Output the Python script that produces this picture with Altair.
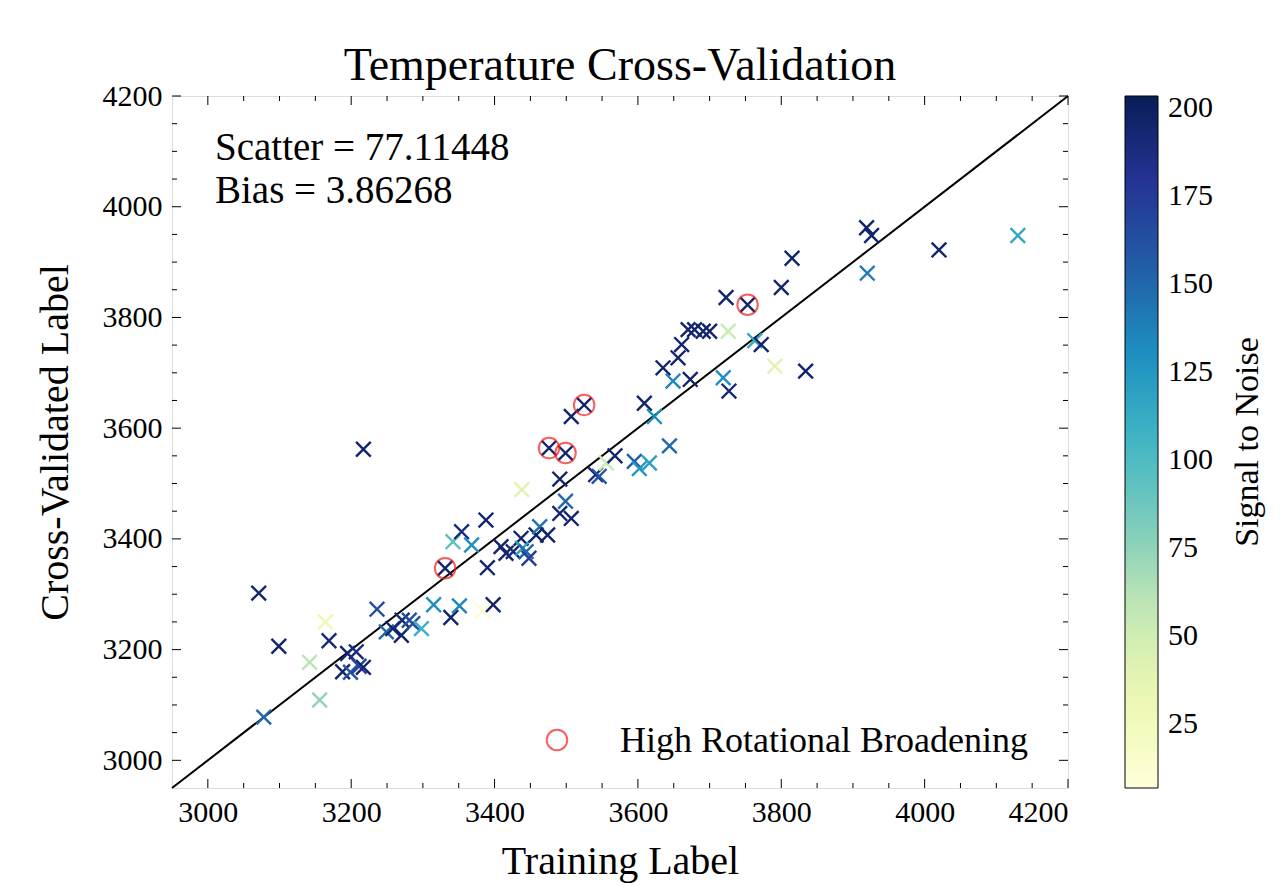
import altair as alt
import pandas as pd

FONT = "Liberation Serif"

# ---- data ----
train_label = [3071, 3099, 3142, 3164, 3169, 3156, 3078, 3217, 3195, 3207,
               3188, 3199, 3211, 3217, 3236, 3249, 3258, 3271, 3270, 3281,
               3286, 3298, 3315, 3339, 3351, 3331, 3342, 3354, 3368, 3388,
               3390, 3398, 3384, 3409, 3416, 3426, 3437, 3439, 3444, 3448,
               3458, 3463, 3474, 3438, 3491, 3491, 3499, 3507, 3476, 3499,
               3507, 3525, 3541, 3546, 3556, 3568, 3595, 3602, 3616, 3609,
               3623, 3644, 3635, 3649, 3656, 3661, 3670, 3679, 3691, 3700,
               3673, 3726, 3719, 3727, 3723, 3753, 3763, 3772, 3791, 3800,
               3815, 3834, 3919, 3926, 3920, 4020, 4130]
cv_label = [3302, 3206, 3177, 3250, 3216, 3109, 3078, 3562, 3193, 3196,
            3160, 3159, 3170, 3168, 3273, 3232, 3238, 3253, 3226, 3253,
            3247, 3238, 3281, 3258, 3279, 3347, 3395, 3413, 3389, 3434,
            3348, 3281, 3270, 3386, 3374, 3377, 3401, 3383, 3377, 3365,
            3407, 3422, 3407, 3489, 3508, 3446, 3468, 3437, 3564, 3555,
            3621, 3642, 3516, 3513, 3537, 3550, 3540, 3527, 3537, 3645,
            3621, 3568, 3709, 3685, 3727, 3751, 3778, 3778, 3775, 3775,
            3688, 3775, 3691, 3667, 3836, 3823, 3758, 3751, 3712, 3854,
            3907, 3703, 3962, 3948, 3880, 3922, 3948]
snr = [195, 195, 60, 30, 190, 75, 150, 195, 195, 190,
       195, 160, 170, 195, 165, 150, 195, 190, 195, 160,
       165, 110, 130, 195, 135, 195, 95, 190, 130, 195,
       195, 195, 12, 195, 195, 190, 195, 120, 150, 175,
       195, 145, 195, 40, 195, 195, 150, 195, 195, 195,
       195, 195, 190, 160, 55, 195, 155, 125, 120, 195,
       130, 150, 195, 135, 195, 195, 195, 195, 195, 195,
       195, 55, 130, 190, 195, 195, 115, 195, 40, 195,
       195, 195, 195, 195, 140, 195, 115]
high_rot = [False] * len(train_label)
for i in (25, 48, 49, 51, 75):
    high_rot[i] = True

axis_ticks = [3000, 3200, 3400, 3600, 3800, 4000, 4200]
minor_ticks = [v for v in range(3000, 4201, 50) if v not in axis_ticks]
snr_ticks = [25, 50, 75, 100, 125, 150, 175, 200]
snr_domain = [6.7, 203.4]
ylgnbu = ["#ffffd9", "#edf8b1", "#c7e9b4", "#7fcdbb", "#41b6c4",
          "#1d91c0", "#225ea8", "#253494", "#081d58"]
lim = [2950, 4200]

W, H = 896, 692
CB_X, CB_W = 953, 33

df = pd.DataFrame({"train": train_label, "cv": cv_label, "snr": snr, "rot": high_rot})
df_rot = df[df["rot"]]
diag = pd.DataFrame({"train": lim, "cv": lim})

xs = alt.Scale(domain=lim, nice=False, zero=False)
ys = alt.Scale(domain=lim, nice=False, zero=False)

axis_style = dict(ticks=False, domain=False, grid=False, format="d",
                  labelFont=FONT, labelFontSize=30, labelColor="black",
                  titleFont=FONT, titleFontSize=40, titleFontWeight="normal",
                  titleColor="black")

line = alt.Chart(diag).mark_line(color="black", strokeWidth=2).encode(
    x=alt.X("train:Q", scale=xs,
            axis=alt.Axis(values=axis_ticks, title="Training Label",
                          labelPadding=9, titlePadding=14, **axis_style)),
    y=alt.Y("cv:Q", scale=ys,
            axis=alt.Axis(values=axis_ticks, title="Cross-Validated Label",
                          labelPadding=10, titlePadding=27, **axis_style)),
)

points = alt.Chart(df).mark_point(
    shape="M-1,-1L1,1M-1,1L1,-1", filled=False, strokeWidth=2.4, size=215, opacity=1
).encode(
    x=alt.X("train:Q", scale=xs),
    y=alt.Y("cv:Q", scale=ys),
    color=alt.Color(
        "snr:Q",
        scale=alt.Scale(range=ylgnbu, domain=snr_domain, interpolate="rgb"),
        legend=alt.Legend(
            orient="none", legendX=CB_X, legendY=0, direction="vertical",
            gradientLength=H, gradientThickness=CB_W, gradientStrokeColor="black",
            gradientStrokeWidth=1, values=snr_ticks, title=None, padding=0,
            labelFont=FONT, labelFontSize=30, labelColor="black", labelOffset=10,
            format="d",
        ),
    ),
)

circles = alt.Chart(df_rot).mark_point(
    shape="circle", filled=False, color="#f01e1e", strokeWidth=2, size=420
).encode(x=alt.X("train:Q", scale=xs), y=alt.Y("cv:Q", scale=ys))

# inward ticks on all four sides
tick_layers = []
for vals, ln in ((axis_ticks, 9), (minor_ticks, 5)):
    tdf = pd.DataFrame({"train": vals, "cv": vals})
    tick_layers.append(alt.Chart(tdf).mark_rule(color="black", strokeWidth=1).encode(
        x=alt.X("train:Q", scale=xs), y=alt.value(H), y2=alt.value(H - ln)))
    tick_layers.append(alt.Chart(tdf).mark_rule(color="black", strokeWidth=1).encode(
        x=alt.X("train:Q", scale=xs), y=alt.value(0), y2=alt.value(ln)))
    tick_layers.append(alt.Chart(tdf).mark_rule(color="black", strokeWidth=1).encode(
        y=alt.Y("cv:Q", scale=ys), x=alt.value(0), x2=alt.value(ln)))
    tick_layers.append(alt.Chart(tdf).mark_rule(color="black", strokeWidth=1).encode(
        y=alt.Y("cv:Q", scale=ys), x=alt.value(W), x2=alt.value(W - ln)))

stats_lines = ["Scatter = 77.11448", "Bias = 3.86268"]
stats_layers = []
for txt, yy in zip(stats_lines, (64, 107)):
    stats_layers.append(alt.Chart(pd.DataFrame({"t": [txt]})).mark_text(
        font=FONT, fontSize=39, align="left", baseline="alphabetic", color="black"
    ).encode(text="t:N", x=alt.value(43), y=alt.value(yy)))

leg_circle = alt.Chart(pd.DataFrame({"a": [0]})).mark_point(
    shape="circle", filled=False, color="#f01e1e", strokeWidth=2, size=420
).encode(x=alt.value(385), y=alt.value(644))
leg_text = alt.Chart(pd.DataFrame({"t": ["High Rotational Broadening"]})).mark_text(
    font=FONT, fontSize=36, align="left", baseline="middle", color="black"
).encode(text="t:N", x=alt.value(448), y=alt.value(645))

cbar_title = alt.Chart(pd.DataFrame({"t": ["Signal to Noise"]})).mark_text(
    font=FONT, fontSize=34, align="center", baseline="middle", color="black", angle=270
).encode(text="t:N", x=alt.value(1076), y=alt.value(346))

chart = alt.layer(
    line, points, circles, *tick_layers, *stats_layers, leg_circle, leg_text, cbar_title
).properties(
    width=W, height=H,
    title=alt.Title("Temperature Cross-Validation", font=FONT, fontSize=46,
                    fontWeight="normal", color="black", offset=-9, anchor="middle"),
    autosize=alt.AutoSizeParams(type="none"),
    padding={"left": 172, "top": 96, "right": 215, "bottom": 98},
).configure_view(stroke="black", strokeWidth=2).configure(background="white")

chart.save("out.html", embed_options={"renderer": "svg", "actions": False})
